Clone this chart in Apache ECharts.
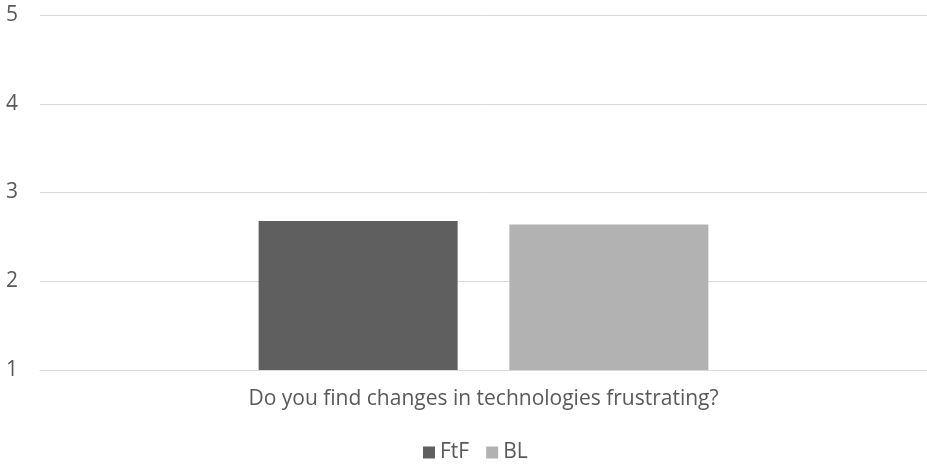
<!DOCTYPE html>
<html><head><meta charset="utf-8">
<script src="https://cdn.jsdelivr.net/npm/echarts@6/dist/echarts.min.js"></script>
<style>html,body{margin:0;padding:0;background:#fff}#c{width:927px;height:465px}</style>
</head><body><div id="c"></div>
<script>
const categories = ["Do you find changes in technologies frustrating?"];
const seriesNames = ["FtF", "BL"];
const ftfValues = [2.68];
const blValues = [2.64];
const yTicks = [1, 5, 1]; // min, max, interval

const chart = echarts.init(document.getElementById('c'));
const font = "'Open Sans', 'Noto Sans', sans-serif";
chart.setOption({
  animation: false,
  textStyle: { fontFamily: font },
  grid: { left: 40, right: 0, top: 15, bottom: 95, containLabel: false },
  legend: {
    top: 442, left: 423, itemWidth: 12, itemHeight: 12, itemGap: 17,
    icon: 'rect', padding: 0,
    textStyle: { color: '#595959', fontSize: 21, fontFamily: font, padding: [0, 0, 0, 0] },
    data: seriesNames
  },
  xAxis: {
    type: 'category', data: categories,
    axisLine: { show: true, lineStyle: { color: '#d9d9d9', width: 1 } },
    axisTick: { show: false },
    axisLabel: { color: '#595959', fontSize: 21, margin: 19, fontFamily: font }
  },
  yAxis: {
    type: 'value', min: yTicks[0], max: yTicks[1], interval: yTicks[2],
    axisLine: { show: false }, axisTick: { show: false },
    splitLine: { lineStyle: { color: '#d9d9d9', width: 1 } },
    axisLabel: { color: '#595959', fontSize: 21, margin: 34, align: 'left', fontFamily: font }
  },
  series: [
    { name: seriesNames[0], type: 'bar', data: ftfValues, barWidth: 199, barGap: '26%', itemStyle: { color: '#5f5f5f' } },
    { name: seriesNames[1], type: 'bar', data: blValues, barWidth: 199, itemStyle: { color: '#b2b2b2' } }
  ]
});
</script></body></html>
